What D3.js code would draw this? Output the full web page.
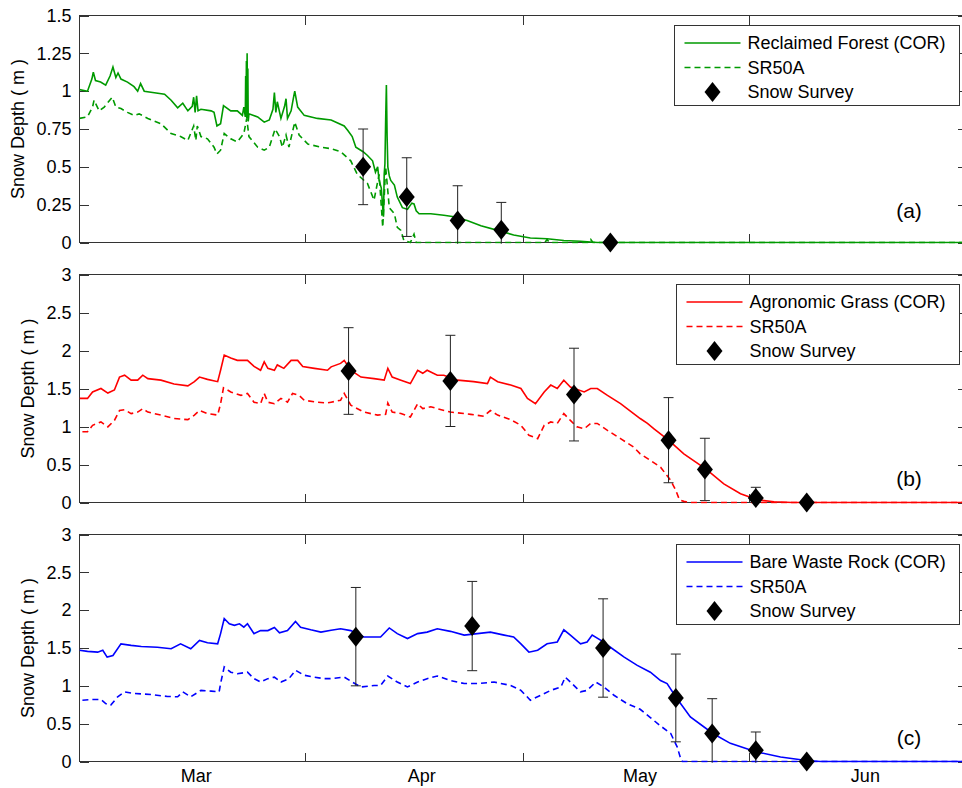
<!DOCTYPE html>
<html>
<head>
<meta charset="utf-8">
<script src="https://cdn.jsdelivr.net/npm/d3@7"></script>
<style>
  html, body { margin: 0; padding: 0; background: #fff; }
  svg { display: block; font-family: "Liberation Sans", Arial, Helvetica, sans-serif; }
</style>
</head>
<body>
<svg id="chart" width="962" height="788"></svg>
<script>
// ---- Time axis: days counted from 1 March 2013 ----
const seasonStart = Date.UTC(2013, 2, 1);
const seasonEnd = Date.UTC(2013, 6, 1);
const monthTickDates = ["2013-04-01", "2013-05-01", "2013-06-01"];
const monthLabelDates = ["2013-03-17", "2013-04-17", "2013-05-17", "2013-06-17"];
const monthLabels = ["Mar", "Apr", "May", "Jun"];

// ---- Y ticks ----
const yTicksForest = [0, 0.25, 0.5, 0.75, 1, 1.25, 1.5];
const yTickLabelsForest = ["0", "0.25", "0.5", "0.75", "1", "1.25", "1.5"];
const yTicksDeep = [0, 0.5, 1, 1.5, 2, 2.5, 3];
const yTickLabelsDeep = ["0", "0.5", "1", "1.5", "2", "2.5", "3"];

// ---- (a) Reclaimed Forest: [day, depth m] ----
const forestCor = [[0,1.01],[1.1,1.00],[1.7,1.08],[1.9,1.125],[2.2,1.07],[2.9,1.06],[3.6,1.04],[4.2,1.10],[4.6,1.16],[5.0,1.09],[5.3,1.12],[5.7,1.08],[6.6,1.06],[7.5,1.03],[8.0,1.00],[8.4,1.05],[8.9,1.00],[10.3,0.99],[11.7,0.98],[12.6,0.94],[13.5,0.89],[14.2,0.92],[14.9,0.87],[15.5,0.90],[15.7,0.96],[15.9,0.86],[16.1,0.97],[16.3,0.87],[16.7,0.88],[18.1,0.87],[18.5,0.86],[18.9,0.77],[19.4,0.785],[19.8,0.905],[20.8,0.87],[21.7,0.87],[22.4,0.84],[22.6,0.895],[22.8,0.83],[22.85,1.10],[22.9,0.85],[22.95,1.20],[23.0,0.82],[23.05,1.25],[23.1,0.85],[23.15,1.15],[23.2,0.80],[23.3,0.85],[24.5,0.83],[25.4,0.795],[26.1,0.81],[26.6,0.88],[26.8,0.99],[27.0,0.86],[27.2,0.93],[27.7,0.82],[28.2,0.90],[28.4,0.95],[28.6,0.82],[29.1,0.87],[29.4,0.95],[29.6,1.00],[30.0,0.895],[30.9,0.84],[32.7,0.82],[34.6,0.81],[36.4,0.77],[36.9,0.74],[37.5,0.70],[38.0,0.63],[39.0,0.60],[39.6,0.575],[40.3,0.54],[40.7,0.465],[41.0,0.50],[41.2,0.41],[41.5,0.36],[41.7,0.23],[41.8,0.17],[41.9,0.45],[42.0,0.52],[42.1,0.81],[42.2,1.04],[42.3,0.70],[42.4,0.50],[42.6,0.44],[42.8,0.41],[43.3,0.38],[43.7,0.30],[44.4,0.23],[45.1,0.22],[45.7,0.26],[46.0,0.255],[46.3,0.21],[46.7,0.19],[48.3,0.19],[50.1,0.18],[51.5,0.17],[53.3,0.145],[55.2,0.11],[57.5,0.08],[59.7,0.05],[62.0,0.03],[64.3,0.025],[66.6,0.013],[68.9,0.008],[71.2,0],[122,0]];
const forestSr50 = [[0,0.82],[1.1,0.83],[1.8,0.895],[2.0,0.94],[2.7,0.87],[3.4,0.895],[4.5,0.96],[5.0,0.895],[5.7,0.885],[6.6,0.86],[7.5,0.84],[8.2,0.85],[9.4,0.82],[11.2,0.785],[12.6,0.72],[13.9,0.70],[14.9,0.675],[15.7,0.77],[16.0,0.675],[16.2,0.77],[16.7,0.70],[17.6,0.685],[18.5,0.63],[18.9,0.585],[19.4,0.61],[19.9,0.72],[20.8,0.685],[21.7,0.665],[22.6,0.72],[23.0,0.82],[23.3,0.70],[24.5,0.63],[25.4,0.61],[26.1,0.63],[26.9,0.75],[27.5,0.70],[27.9,0.63],[28.4,0.71],[28.8,0.63],[29.6,0.795],[30.2,0.71],[31.4,0.65],[33.2,0.63],[34.6,0.62],[35.9,0.60],[37.3,0.54],[38.2,0.45],[39.6,0.39],[40.5,0.28],[41.2,0.45],[41.7,0.10],[42.1,0.50],[42.6,0.23],[43.3,0.19],[43.7,0.10],[44.2,0.08],[44.6,0.013],[45.5,0],[46.0,0.055],[46.3,0],[64.0,0],[64.3,0.02],[64.6,0],[70.0,0],[70.3,0.02],[70.6,0],[122,0]];
const forestSurveyDays = [39, 45, 52, 58, 73];
const forestSurveyDepth = [0.50, 0.30, 0.145, 0.085, 0];
const forestSurveyError = [0.25, 0.26, 0.23, 0.18, 0];

// ---- (b) Agronomic Grass ----
const grassCor = [[0,1.37],[1.1,1.37],[1.8,1.455],[2.95,1.50],[3.9,1.44],[4.8,1.48],[5.5,1.65],[6.2,1.675],[7.1,1.61],[8.0,1.61],[8.7,1.675],[9.4,1.63],[11.2,1.61],[13.0,1.56],[14.9,1.535],[15.8,1.59],[16.5,1.65],[17.6,1.62],[19.0,1.59],[19.4,1.74],[19.9,1.94],[20.8,1.90],[21.7,1.87],[23.1,1.87],[24.0,1.79],[24.9,1.74],[25.4,1.85],[25.9,1.765],[26.8,1.74],[27.2,1.81],[28.1,1.765],[29.1,1.87],[30.0,1.87],[30.7,1.79],[32.3,1.765],[34.1,1.74],[34.6,1.785],[35.9,1.83],[36.4,1.87],[37.3,1.74],[38.7,1.65],[40.5,1.63],[41.9,1.61],[42.4,1.765],[43.0,1.65],[44.2,1.61],[45.5,1.565],[46.5,1.74],[47.2,1.70],[47.8,1.74],[49.2,1.675],[50.1,1.675],[52.0,1.61],[54.2,1.59],[56.1,1.565],[56.5,1.65],[57.5,1.59],[59.3,1.545],[60.7,1.50],[61.6,1.37],[62.7,1.30],[63.9,1.455],[64.8,1.545],[65.7,1.50],[66.6,1.61],[67.5,1.52],[69.4,1.455],[70.3,1.50],[71.2,1.50],[72.6,1.41],[74.4,1.30],[76.2,1.17],[77.1,1.105],[78.1,1.04],[79.0,0.97],[81.0,0.82],[83.1,0.64],[86.2,0.435],[88.6,0.245],[90.9,0.115],[93.2,0.035],[95.5,0.01],[98,0],[122,0]];
const grassSr50 = [[0.4,0.93],[1.1,0.93],[1.8,1.015],[2.95,1.06],[3.9,0.995],[4.8,1.08],[5.5,1.21],[6.2,1.22],[7.1,1.17],[8.0,1.19],[8.7,1.235],[9.4,1.19],[11.2,1.15],[13.0,1.105],[14.9,1.09],[15.8,1.15],[16.5,1.21],[17.6,1.17],[19.0,1.15],[19.4,1.30],[19.8,1.51],[20.8,1.455],[22.2,1.41],[23.1,1.435],[24.0,1.32],[24.9,1.30],[25.4,1.435],[25.9,1.32],[26.8,1.30],[27.7,1.37],[28.6,1.32],[29.3,1.435],[30.2,1.41],[30.9,1.345],[32.7,1.32],[34.1,1.31],[34.6,1.32],[35.9,1.345],[36.4,1.435],[37.3,1.28],[39.1,1.19],[41.0,1.15],[42.1,1.16],[42.4,1.31],[43.0,1.19],[44.2,1.17],[45.5,1.125],[46.5,1.30],[47.2,1.235],[48.3,1.26],[49.2,1.235],[51.0,1.19],[53.8,1.16],[55.6,1.135],[56.5,1.21],[57.5,1.15],[59.3,1.09],[60.7,1.015],[61.8,0.885],[63.0,0.84],[63.9,1.015],[64.8,1.06],[65.7,1.04],[66.6,1.17],[67.5,1.08],[68.4,0.995],[69.4,0.97],[70.3,1.04],[71.2,1.04],[72.6,0.95],[74.4,0.84],[76.2,0.73],[77.1,0.64],[78.5,0.555],[79.9,0.465],[81.3,0.29],[82.0,0.16],[82.5,0.035],[83.1,0.015],[84,0],[122,0]];
const grassSurveyDays = [37, 51, 68, 81, 86, 93, 100];
const grassSurveyDepth = [1.73, 1.60, 1.42, 0.82, 0.435, 0.06, 0];
const grassSurveyError = [0.57, 0.60, 0.61, 0.56, 0.41, 0.14, 0];

// ---- (c) Bare Waste Rock ----
const rockCor = [[0,1.47],[1.1,1.455],[2.5,1.445],[3.2,1.47],[3.8,1.38],[4.6,1.40],[5.7,1.555],[7.1,1.535],[8.5,1.52],[10.7,1.51],[12.6,1.49],[13.9,1.555],[15.3,1.49],[16.5,1.60],[17.6,1.57],[19.0,1.555],[19.4,1.69],[19.9,1.89],[20.6,1.82],[21.3,1.80],[22.0,1.82],[22.6,1.775],[23.1,1.82],[24.0,1.69],[24.9,1.73],[25.9,1.73],[26.8,1.77],[27.5,1.70],[28.6,1.73],[29.7,1.85],[30.4,1.775],[31.8,1.74],[33.2,1.71],[34.6,1.735],[35.9,1.755],[37.3,1.73],[39.1,1.645],[41.4,1.645],[42.6,1.765],[43.7,1.69],[45.1,1.625],[46.5,1.69],[47.8,1.71],[49.2,1.755],[51.0,1.72],[52.9,1.67],[54.7,1.69],[56.5,1.71],[58.4,1.67],[59.7,1.645],[60.7,1.555],[61.8,1.445],[63.0,1.47],[64.3,1.555],[65.7,1.58],[66.6,1.74],[67.5,1.67],[68.9,1.555],[69.8,1.58],[70.5,1.67],[71.7,1.60],[73.0,1.51],[74.9,1.38],[76.7,1.27],[78.5,1.18],[79.9,1.07],[80.8,1.03],[82.1,0.84],[84.0,0.59],[87.1,0.37],[89.5,0.24],[93.1,0.127],[96.4,0.06],[100.2,0.01],[101.9,0],[122,0]];
const rockSr50 = [[0.4,0.81],[1.6,0.82],[2.95,0.82],[3.6,0.765],[4.3,0.745],[5.25,0.855],[6.2,0.92],[7.5,0.90],[9.8,0.885],[12.1,0.86],[13.5,0.855],[14.2,0.92],[15.3,0.855],[16.7,0.94],[18.1,0.93],[19.2,0.92],[19.4,1.03],[19.9,1.25],[20.8,1.18],[21.7,1.16],[23.1,1.18],[24.0,1.095],[24.9,1.05],[25.9,1.095],[26.8,1.115],[27.7,1.05],[28.8,1.095],[29.7,1.205],[30.9,1.14],[32.3,1.115],[33.6,1.095],[34.6,1.095],[36.4,1.115],[37.5,1.05],[38.7,0.985],[40.5,1.005],[41.4,1.005],[42.4,1.13],[43.7,1.05],[45.1,0.985],[46.5,1.05],[47.8,1.095],[49.2,1.13],[51.0,1.07],[52.9,1.03],[54.7,1.03],[57.0,1.05],[59.3,1.005],[60.7,0.94],[62.0,0.81],[63.4,0.875],[64.8,0.94],[66.2,0.985],[66.8,1.115],[67.5,1.05],[68.9,0.92],[69.8,0.94],[71.0,1.05],[72.1,0.985],[73.5,0.875],[75.3,0.765],[77.1,0.69],[78.5,0.58],[79.9,0.47],[81.3,0.37],[82.2,0.19],[82.6,0.06],[82.9,0],[122,0]];
const rockSurveyDays = [38, 54, 72, 82, 87, 93, 100];
const rockSurveyDepth = [1.65, 1.79, 1.50, 0.84, 0.37, 0.15, 0];
const rockSurveyError = [0.65, 0.59, 0.65, 0.58, 0.46, 0.24, 0];

// ---- Panel settings ----
const panels = [
  { top: 15.5, bottom: 242.5, yMax: 1.5, ticks: yTicksForest, tickLabels: yTickLabelsForest,
    color: "#009a00", cor: forestCor, sr: forestSr50,
    sDays: forestSurveyDays, sDepth: forestSurveyDepth, sErr: forestSurveyError,
    legend: "Reclaimed Forest (COR)", tag: "(a)", tagRise: 24.5, ylabX: 24 },
  { top: 274.5, bottom: 502.5, yMax: 3, ticks: yTicksDeep, tickLabels: yTickLabelsDeep,
    color: "#ff0000", cor: grassCor, sr: grassSr50,
    sDays: grassSurveyDays, sDepth: grassSurveyDepth, sErr: grassSurveyError,
    legend: "Agronomic Grass (COR)", tag: "(b)", tagRise: 16.5, ylabX: 33.5 },
  { top: 534.5, bottom: 761.5, yMax: 3, ticks: yTicksDeep, tickLabels: yTickLabelsDeep,
    color: "#0000ff", cor: rockCor, sr: rockSr50,
    sDays: rockSurveyDays, sDepth: rockSurveyDepth, sErr: rockSurveyError,
    legend: "Bare Waste Rock (COR)", tag: "(c)", tagRise: 16.5, ylabX: 33.5 }
];

const left = 79.5, right = 966.7;
const FONT = 18;
const TAG_FONT = 21;
const AXIS_COLOR = "#333";
const dayToDate = d => new Date(seasonStart + d * 864e5);
const parse = s => new Date(s + "T00:00:00Z");

const svg = d3.select("#chart");
const x = d3.scaleUtc().domain([new Date(seasonStart), new Date(seasonEnd)]).range([left, right]);

// diamond marker path centred at the origin
const diamond = (hw, hh) => `M0,${-hh}L${hw},0L0,${hh}L${-hw},0Z`;

function styleAxis(g) {
  g.attr("font-family", null).attr("font-size", null);
  g.select(".domain").remove();
  g.selectAll(".tick line").attr("stroke", AXIS_COLOR).attr("shape-rendering", "crispEdges");
  g.selectAll(".tick text").attr("fill", "#000").style("font-size", FONT + "px");
}

panels.forEach((p, i) => {
  const y = d3.scaleLinear().domain([0, p.yMax]).range([p.bottom, p.top]);
  const g = svg.append("g");
  const clipId = "clip" + i;
  svg.append("clipPath").attr("id", clipId).append("rect")
    .attr("x", left).attr("y", p.top).attr("width", right - left).attr("height", p.bottom - p.top + 1.2);

  // frame
  g.append("rect").attr("x", left).attr("y", p.top).attr("width", right - left).attr("height", p.bottom - p.top)
    .attr("fill", "none").attr("stroke", AXIS_COLOR).attr("stroke-width", 1).attr("shape-rendering", "crispEdges");

  // y axes (ticks pointing inward on both sides)
  g.append("g").attr("transform", `translate(${left},0)`)
    .call(d3.axisLeft(y).tickValues(p.ticks).tickFormat((d, k) => p.tickLabels[k])
      .tickSizeInner(-9).tickSizeOuter(0).tickPadding(8))
    .call(styleAxis);
  g.append("g").attr("transform", `translate(${right},0)`)
    .call(d3.axisRight(y).tickValues(p.ticks).tickFormat("").tickSizeInner(-9).tickSizeOuter(0))
    .call(styleAxis);

  // x ticks at month boundaries, top and bottom
  const monthDates = monthTickDates.map(parse);
  g.append("g").attr("transform", `translate(0,${p.bottom})`)
    .call(d3.axisBottom(x).tickValues(monthDates).tickFormat("").tickSizeInner(-9).tickSizeOuter(0))
    .call(styleAxis);
  g.append("g").attr("transform", `translate(0,${p.top})`)
    .call(d3.axisTop(x).tickValues(monthDates).tickFormat("").tickSizeInner(-9).tickSizeOuter(0))
    .call(styleAxis);

  if (i === panels.length - 1) {
    g.append("g").attr("transform", `translate(0,${p.bottom})`)
      .call(d3.axisBottom(x).tickValues(monthLabelDates.map(parse)).tickFormat((d, k) => monthLabels[k])
        .tickSize(0).tickPadding(8))
      .call(styleAxis);
  }

  // y label
  g.append("text")
    .attr("transform", `translate(${p.ylabX},${(p.top + p.bottom) / 2}) rotate(-90)`)
    .attr("text-anchor", "middle").style("font-size", FONT + "px").text("Snow Depth ( m )");

  // series
  const line = d3.line().x(d => x(dayToDate(d[0]))).y(d => y(d[1]));
  const data = g.append("g").attr("clip-path", `url(#${clipId})`);
  data.append("path").datum(p.sr).attr("d", line).attr("fill", "none")
    .attr("stroke", p.color).attr("stroke-width", 1.6).attr("stroke-dasharray", "6,4");
  data.append("path").datum(p.cor).attr("d", line).attr("fill", "none")
    .attr("stroke", p.color).attr("stroke-width", 1.6);

  // snow survey error bars
  const survey = p.sDays.map((d, k) => ({ day: d, v: p.sDepth[k], e: p.sErr[k] }));
  const eb = data.append("g").attr("stroke", "#222").attr("stroke-width", 1);
  survey.filter(s => s.e > 0).forEach(s => {
    const cx = x(dayToDate(s.day)), y0 = y(s.v - s.e), y1 = y(s.v + s.e);
    eb.append("line").attr("x1", cx).attr("x2", cx).attr("y1", y0).attr("y2", y1);
    eb.append("line").attr("x1", cx - 5).attr("x2", cx + 5).attr("y1", y1).attr("y2", y1);
    eb.append("line").attr("x1", cx - 5).attr("x2", cx + 5).attr("y1", y0).attr("y2", y0);
  });

  // survey markers
  g.append("g").selectAll("path").data(survey).join("path")
    .attr("transform", s => `translate(${x(dayToDate(s.day))},${y(s.v)})`)
    .attr("d", diamond(8, 10)).attr("fill", "#000");

  // panel tag
  g.append("text").attr("x", 909).attr("y", p.bottom - p.tagRise)
    .attr("text-anchor", "middle").style("font-size", TAG_FONT + "px").text(p.tag);

  // legend
  const lg = g.append("g");
  const box = lg.append("rect").attr("fill", "#fff").attr("stroke", AXIS_COLOR).attr("stroke-width", 1)
    .attr("shape-rendering", "crispEdges");
  const entries = [p.legend, "SR50A", "Snow Survey"];
  const rowY = [18, 42.5, 67];
  const texts = entries.map((t, k) => lg.append("text").attr("x", 73).attr("y", rowY[k])
    .attr("dy", "0.35em").style("font-size", FONT + "px").text(t));
  const textW = d3.max(texts, t => t.node().getComputedTextLength());
  const boxW = Math.round(73 + textW + 14);
  const boxRight = 959.5;
  const boxLeft = boxRight - boxW;
  lg.attr("transform", `translate(${boxLeft},${Math.round(p.top + 9)})`);
  box.attr("x", 0).attr("y", 0).attr("width", boxW).attr("height", 80);
  lg.append("line").attr("x1", 10).attr("x2", 66).attr("y1", rowY[0]).attr("y2", rowY[0])
    .attr("stroke", p.color).attr("stroke-width", 1.6);
  lg.append("line").attr("x1", 10).attr("x2", 66).attr("y1", rowY[1]).attr("y2", rowY[1])
    .attr("stroke", p.color).attr("stroke-width", 1.6).attr("stroke-dasharray", "6,4");
  lg.append("path").attr("transform", `translate(38,${rowY[2]})`).attr("d", diamond(8, 10)).attr("fill", "#000");
});
</script>
</body>
</html>
